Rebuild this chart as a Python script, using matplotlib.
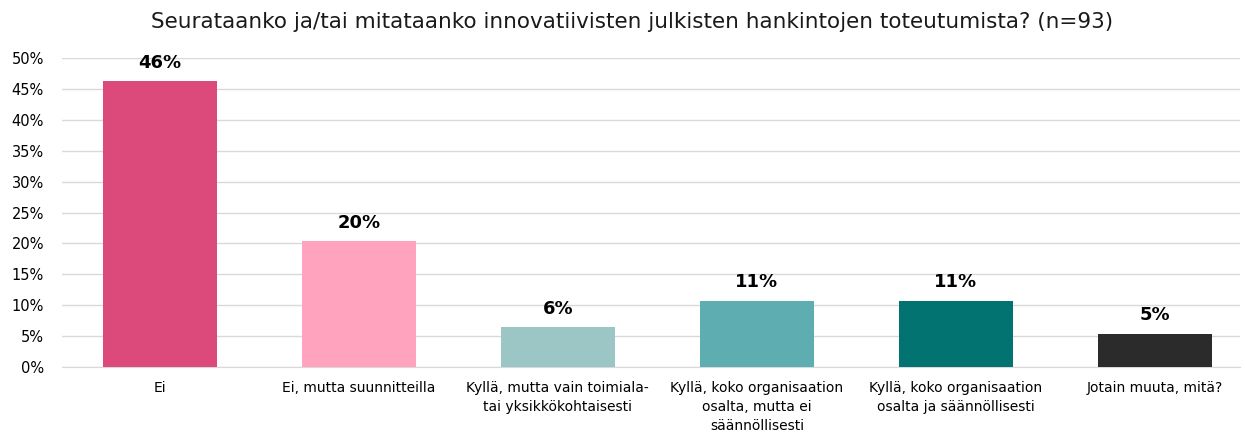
import matplotlib
matplotlib.use("Agg")
import matplotlib.pyplot as plt
from matplotlib.ticker import PercentFormatter

categories = ["Ei", "Ei, mutta suunnitteilla",
              "Kyllä, mutta vain toimiala-\ntai yksikkökohtaisesti",
              "Kyllä, koko organisaation\nosalta, mutta ei\nsäännöllisesti",
              "Kyllä, koko organisaation\nosalta ja säännöllisesti",
              "Jotain muuta, mitä?"]
values = [0.462, 0.204, 0.0645, 0.1075, 0.1075, 0.0538]
labels = ["46%", "20%", "6%", "11%", "11%", "5%"]
colors = ["#DB4A7A", "#FFA3BE", "#9BC6C5", "#5EADB0", "#037372", "#2B2B2B"]
title = "Seurataanko ja/tai mitataanko innovatiivisten julkisten hankintojen toteutumista? (n=93)"

plt.rcParams['font.family'] = ['DejaVu Sans']
fig = plt.figure(figsize=(12.45, 4.32), dpi=100)
ax = fig.add_axes([62/1245, 1-367/432, (1240-62)/1245, (367-58)/432])

x = list(range(len(categories)))
bars = ax.bar(x, values, width=0.573, color=colors, zorder=3)
for xi, v, lab in zip(x, values, labels):
    ax.text(xi, v + 0.015, lab, ha="center", va="bottom", fontsize=13,
            fontweight="bold", color="#000000")

ax.set_xlim(-0.492, 5.428)
ax.set_ylim(0, 0.5)
ax.set_yticks([i * 0.05 for i in range(11)])
ax.yaxis.set_major_formatter(PercentFormatter(1.0, decimals=0))
ax.set_xticks(x)
ax.set_xticklabels(categories, fontsize=10, linespacing=1.45)
ax.tick_params(axis="y", labelsize=10.5, length=0, pad=13)
ax.tick_params(axis="x", length=0, pad=10)
ax.grid(axis="y", color="#D9D9D9", linewidth=1, zorder=0)
for s in ["top", "right", "left"]:
    ax.spines[s].set_visible(False)
ax.spines["bottom"].set_color("#D9D9D9")

fig.text(632/1245, 1-22/432, title, ha="center", va="center", fontsize=15.5, color="#1a1a1a")

fig.savefig("out.png", dpi=100)
